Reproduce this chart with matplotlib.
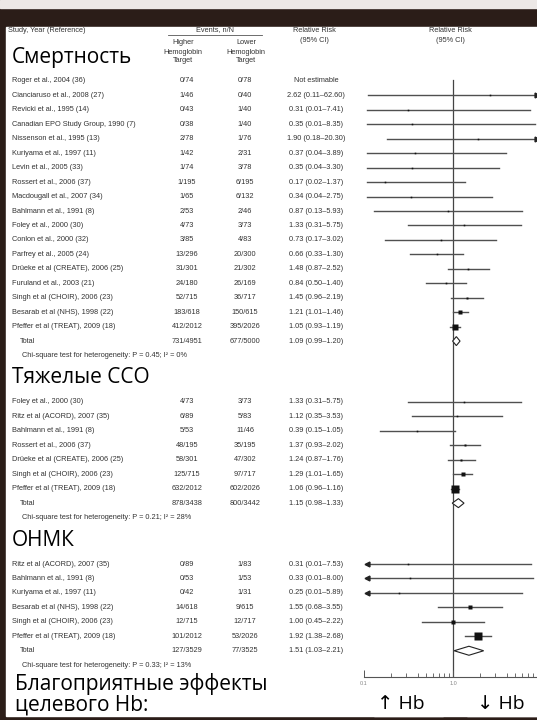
import numpy as np
import matplotlib.pyplot as plt
from matplotlib.patches import Rectangle, Polygon
from matplotlib.ticker import FixedLocator, FixedFormatter, NullFormatter

plt.rcParams['font.family'] = ['Liberation Sans', 'DejaVu Sans']

# --- Смертность ---
mort_names = ["Roger et al., 2004 (36)", "Cianciaruso et al., 2008 (27)", "Revicki et al., 1995 (14)",
              "Canadian EPO Study Group, 1990 (7)", "Nissenson et al., 1995 (13)", "Kuriyama et al., 1997 (11)",
              "Levin et al., 2005 (33)", "Rossert et al., 2006 (37)", "Macdougall et al., 2007 (34)",
              "Bahlmann et al., 1991 (8)", "Foley et al., 2000 (30)", "Conlon et al., 2000 (32)",
              "Parfrey et al., 2005 (24)", "Drüeke et al (CREATE), 2006 (25)", "Furuland et al., 2003 (21)",
              "Singh et al (CHOIR), 2006 (23)", "Besarab et al (NHS), 1998 (22)", "Pfeffer et al (TREAT), 2009 (18)"]
mort_high = ["0/74", "1/46", "0/43", "0/38", "2/78", "1/42", "1/74", "1/195", "1/65", "2/53", "4/73", "3/85",
             "13/296", "31/301", "24/180", "52/715", "183/618", "412/2012"]
mort_low = ["0/78", "0/40", "1/40", "1/40", "1/76", "2/31", "3/78", "6/195", "6/132", "2/46", "3/73", "4/83",
            "20/300", "21/302", "26/169", "36/717", "150/615", "395/2026"]
mort_rr = [None, 2.62, 0.31, 0.35, 1.90, 0.37, 0.35, 0.17, 0.34, 0.87, 1.33, 0.73, 0.66, 1.48, 0.84, 1.45, 1.21, 1.05]
mort_lo = [None, 0.11, 0.01, 0.01, 0.18, 0.04, 0.04, 0.02, 0.04, 0.13, 0.31, 0.17, 0.33, 0.87, 0.50, 0.96, 1.01, 0.93]
mort_hi = [None, 62.6, 7.41, 8.35, 20.3, 3.89, 3.30, 1.37, 2.75, 5.93, 5.75, 3.02, 1.30, 2.52, 1.40, 2.19, 1.46, 1.19]
mort_total = ["731/4951", "677/5000", 1.09, 0.99, 1.20]
mort_het = "Chi-square test for heterogeneity: P = 0.45; I² = 0%"

# --- Тяжелые ССО ---
cv_names = ["Foley et al., 2000 (30)", "Ritz et al (ACORD), 2007 (35)", "Bahlmann et al., 1991 (8)",
            "Rossert et al., 2006 (37)", "Drüeke et al (CREATE), 2006 (25)", "Singh et al (CHOIR), 2006 (23)",
            "Pfeffer et al (TREAT), 2009 (18)"]
cv_high = ["4/73", "6/89", "5/53", "48/195", "58/301", "125/715", "632/2012"]
cv_low = ["3/73", "5/83", "11/46", "35/195", "47/302", "97/717", "602/2026"]
cv_rr = [1.33, 1.12, 0.39, 1.37, 1.24, 1.29, 1.06]
cv_lo = [0.31, 0.35, 0.15, 0.93, 0.87, 1.01, 0.96]
cv_hi = [5.75, 3.53, 1.05, 2.02, 1.76, 1.65, 1.16]
cv_total = ["878/3438", "800/3442", 1.15, 0.98, 1.33]
cv_het = "Chi-square test for heterogeneity: P = 0.21; I² = 28%"

# --- ОНМК ---
st_names = ["Ritz et al (ACORD), 2007 (35)", "Bahlmann et al., 1991 (8)", "Kuriyama et al., 1997 (11)",
            "Besarab et al (NHS), 1998 (22)", "Singh et al (CHOIR), 2006 (23)", "Pfeffer et al (TREAT), 2009 (18)"]
st_high = ["0/89", "0/53", "0/42", "14/618", "12/715", "101/2012"]
st_low = ["1/83", "1/53", "1/31", "9/615", "12/717", "53/2026"]
st_rr = [0.31, 0.33, 0.25, 1.55, 1.00, 1.92]
st_lo = [0.01, 0.01, 0.01, 0.68, 0.45, 1.38]
st_hi = [7.53, 8.00, 5.89, 3.55, 2.22, 2.68]
st_total = ["127/3529", "77/3525", 1.51, 1.03, 2.21]
st_het = "Chi-square test for heterogeneity: P = 0.33; I² = 13%"

# last flag: mark CIs cut at the left edge with an arrow
sections = [
    ("Смертность", mort_names, mort_high, mort_low, mort_rr, mort_lo, mort_hi, mort_total, mort_het, False),
    ("Тяжелые ССО", cv_names, cv_high, cv_low, cv_rr, cv_lo, cv_hi, cv_total, cv_het, False),
    ("ОНМК", st_names, st_high, st_low, st_rr, st_lo, st_hi, st_total, st_het, True),
]

W, H = 537, 720
fig = plt.figure(figsize=(W / 100, H / 100), dpi=100)

# page in pixel coordinates
bg = fig.add_axes([0, 0, 1, 1])
bg.set_xlim(0, W)
bg.set_ylim(H, 0)
bg.axis('off')
bg.add_patch(Rectangle((0, 0), W, H, color='#2b1d18', zorder=0))
bg.add_patch(Rectangle((0, 0), W, 8, color='#ece8e6', zorder=0))
bg.add_patch(Rectangle((6, 27), W - 6, 689, color='white', zorder=0))

# forest panel: log scale, y in the same pixel units as the page
x_left, x_right = 364, 542
y_top, y_axis = 70, 677
fa = fig.add_axes([x_left / W, (H - y_axis) / H, (x_right - x_left) / W, (y_axis - y_top) / H])
fa.set_xscale('log')
fa.set_xlim(0.1, 10)
fa.set_ylim(y_axis, y_top)
fa.patch.set_visible(False)
for s in ['top', 'right', 'left']:
    fa.spines[s].set_visible(False)
fa.spines['bottom'].set_color('#555555')
fa.spines['bottom'].set_linewidth(0.8)
fa.set_yticks([])
fa.xaxis.set_major_locator(FixedLocator([0.1, 1, 10]))
fa.xaxis.set_major_formatter(FixedFormatter(["0.1", "1.0", ""]))
fa.xaxis.set_minor_locator(FixedLocator([k * 10.0 ** e for e in (-1, 0) for k in range(2, 10)]))
fa.xaxis.set_minor_formatter(NullFormatter())
fa.tick_params(axis='x', which='major', direction='in', length=5, width=0.7, color='#555555',
               labelsize=4, labelcolor='#888888', pad=3)
fa.tick_params(axis='x', which='minor', direction='in', length=3, width=0.6, color='#555555')
fa.plot([1, 1], [80, y_axis], color='#444444', lw=0.9, zorder=1)

txt = dict(fontsize=5.3, color='#333333', va='center')
x_name, x_total, x_high, x_low, x_rr = 12, 20, 187, 245, 316
lo_clip, hi_clip = 0.108, 8.7

# column headers
bg.text(8, 30, "Study, Year (Reference)", ha='left', **txt)
bg.text(215, 30, "Events, n/N", ha='center', **txt)
bg.plot([168, 262], [35, 35], color='#555555', lw=0.6)
bg.text(183, 52, "Higher\nHemoglobin\nTarget", ha='center', linespacing=1.4, **txt)
bg.text(246, 52, "Lower\nHemoglobin\nTarget", ha='center', linespacing=1.4, **txt)
bg.text(314, 35.5, "Relative Risk\n(95% CI)", ha='center', linespacing=1.4, **txt)
bg.text(450, 35.5, "Relative Risk\n(95% CI)", ha='center', linespacing=1.4, **txt)

step = 14.45
y = 81.0
for title, names, high, low, rr, lo, hi, total, het, left_arrows in sections:
    bg.text(12, y - 24, title, fontsize=15, family=['Open Sans', 'DejaVu Sans'], color='black',
            ha='left', va='center',
            bbox=dict(facecolor='white', edgecolor='none', pad=2.5))

    events = [int(a.split('/')[0]) + int(b.split('/')[0]) for a, b in zip(high, low)]
    share = np.array(events) / sum(events)

    for i in range(len(names)):
        bg.text(x_name, y, names[i], ha='left', **txt)
        bg.text(x_high, y, high[i], ha='center', **txt)
        bg.text(x_low, y, low[i], ha='center', **txt)
        if rr[i] is None:
            bg.text(x_rr, y, "Not estimable", ha='center', **txt)
        else:
            bg.text(x_rr, y, f"{rr[i]:.2f} ({lo[i]:.2f}–{hi[i]:.2f})", ha='center', **txt)
            a, b = max(lo[i], lo_clip), min(hi[i], hi_clip)
            fa.plot([a, b], [y, y], color='#505050', lw=1.0, zorder=2, clip_on=False)
            if left_arrows and lo[i] < lo_clip:
                fa.plot([lo_clip], [y], marker='<', ms=3.5, color='#222222', clip_on=False, zorder=3)
            if hi[i] > hi_clip:
                fa.plot([hi_clip], [y], marker='>', ms=3.5, color='#222222', clip_on=False, zorder=3)
            size = max(1.6, 9.0 * np.sqrt(share[i])) * 0.72
            fa.plot([rr[i]], [y], marker='s', ms=size, color='#111111', mec='none', zorder=4)
        y += step

    # pooled estimate
    bg.text(x_total, y, "Total", ha='left', **txt)
    bg.text(x_high, y, total[0], ha='center', **txt)
    bg.text(x_low, y, total[1], ha='center', **txt)
    bg.text(x_rr, y, f"{total[2]:.2f} ({total[3]:.2f}–{total[4]:.2f})", ha='center', **txt)
    fa.add_patch(Polygon([(total[3], y), (total[2], y - 4.5), (total[4], y), (total[2], y + 4.5)],
                         closed=True, facecolor='white', edgecolor='#222222', lw=0.8, zorder=4))
    y += step
    bg.text(x_total + 2, y, het, ha='left', **txt)
    y += step + 32

# bottom labels
bg.text(15, 694, "Благоприятные эффекты\nцелевого Hb:", fontsize=15, family=['Open Sans', 'DejaVu Sans'],
        color='black', ha='left', va='center', linespacing=0.95)
bg.add_patch(Rectangle((374, 686), 69, 30, color='white', zorder=3))
bg.add_patch(Rectangle((467, 686), 70, 30, color='white', zorder=3))
bg.text(401, 704, "↑ Hb", fontsize=14, family=['Open Sans', 'DejaVu Sans'], ha='center', va='center', zorder=4)
bg.text(501, 704, "↓ Hb", fontsize=14, family=['Open Sans', 'DejaVu Sans'], ha='center', va='center', zorder=4)

fig.savefig("out.png", dpi=100)
